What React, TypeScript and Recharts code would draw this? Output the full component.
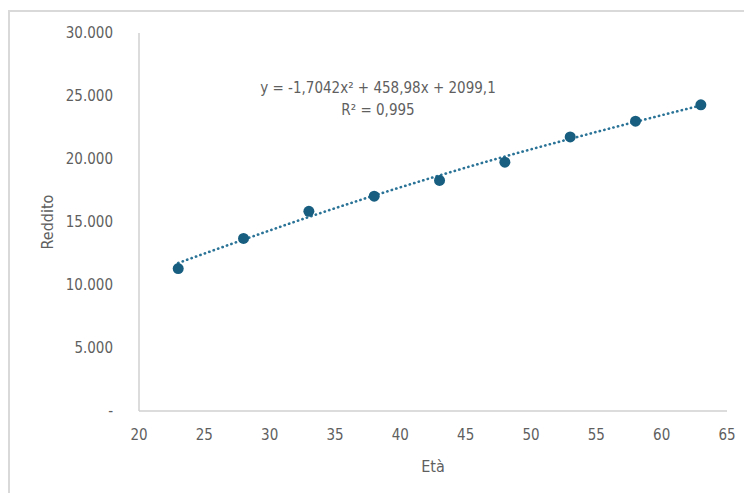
import { ComposedChart, Line, Scatter, XAxis, YAxis, Label } from "recharts"

// età osservate e reddito medio
const eta = [23, 28, 33, 38, 43, 48, 53, 58, 63]
const reddito = [11300, 13700, 15850, 17050, 18300, 19750, 21750, 23000, 24300]
// linea di tendenza (polinomiale)
const tendenza = [11750, 13600, 15400, 17100, 18700, 20200, 21600, 22950, 24250]

const xTicks = [20, 25, 30, 35, 40, 45, 50, 55, 60, 65]
const yTicks = [0, 5000, 10000, 15000, 20000, 25000, 30000]

const equazione = "y = -1,7042x² + 458,98x + 2099,1"
const erre = "R² = 0,995"

const font = "'Liberation Sans Narrow', 'DejaVu Sans Condensed', sans-serif"
const grey = "#5f5f5f"

const data = eta.map((x, i) => ({ eta: x, reddito: reddito[i], tendenza: tendenza[i] }))

const formatY = (v: number) => (v === 0 ? "-" : v.toLocaleString("it-IT").replace(/,/g, "."))

export default function App() {
  return (
    <div
      style={{
        position: "fixed",
        left: 0,
        top: 0,
        width: 744,
        height: 493,
        background: "#fff",
        fontFamily: font,
      }}
    >
      <div
        style={{
          position: "absolute",
          left: 8,
          top: 10,
          width: 744,
          height: 493,
          borderLeft: "2px solid #d9d9d9",
          borderTop: "2px solid #d9d9d9",
        }}
      />
      <ComposedChart
        width={744}
        height={493}
        data={data}
        margin={{ top: 33, right: 17, bottom: 52, left: 20 }}
        style={{ position: "absolute", left: 0, top: 0 }}
      >
        <XAxis
          type="number"
          dataKey="eta"
          domain={[20, 65]}
          ticks={xTicks}
          tickLine={false}
          axisLine={{ stroke: "#d0d0d0", strokeWidth: 1.5 }}
          tick={{ fill: grey, fontSize: 15, fontFamily: font }}
          tickMargin={12}
          height={30}
        >
          <Label value="Età" position="bottom" offset={20} style={{ fill: grey, fontSize: 16, fontFamily: font }} />
        </XAxis>
        <YAxis
          type="number"
          domain={[0, 30000]}
          ticks={yTicks}
          tickFormatter={formatY}
          tickLine={false}
          axisLine={{ stroke: "#d0d0d0", strokeWidth: 1.5 }}
          tick={{ fill: grey, fontSize: 15, fontFamily: font }}
          tickMargin={20}
          width={119}
        >
          <Label
            value="Reddito"
            angle={-90}
            position="insideLeft"
            offset={27}
            style={{ fill: grey, fontSize: 16, fontFamily: font, textAnchor: "middle" }}
          />
        </YAxis>
        <Line
          dataKey="tendenza"
          type="monotone"
          stroke="#2a7397"
          strokeWidth={2.6}
          strokeLinecap="round"
          strokeDasharray="0.3 4.4"
          dot={false}
          activeDot={false}
          isAnimationActive={false}
        />
        <Scatter
          dataKey="reddito"
          fill="#175e80"
          shape={(p: any) => <circle cx={p.cx} cy={p.cy} r={5.5} fill="#175e80" />}
          isAnimationActive={false}
        />
        <text x={378} y={93} textAnchor="middle" fill={grey} fontSize={15} fontFamily={font}>
          {equazione}
        </text>
        <text x={378} y={115} textAnchor="middle" fill={grey} fontSize={15} fontFamily={font}>
          {erre}
        </text>
      </ComposedChart>
    </div>
  )
}
